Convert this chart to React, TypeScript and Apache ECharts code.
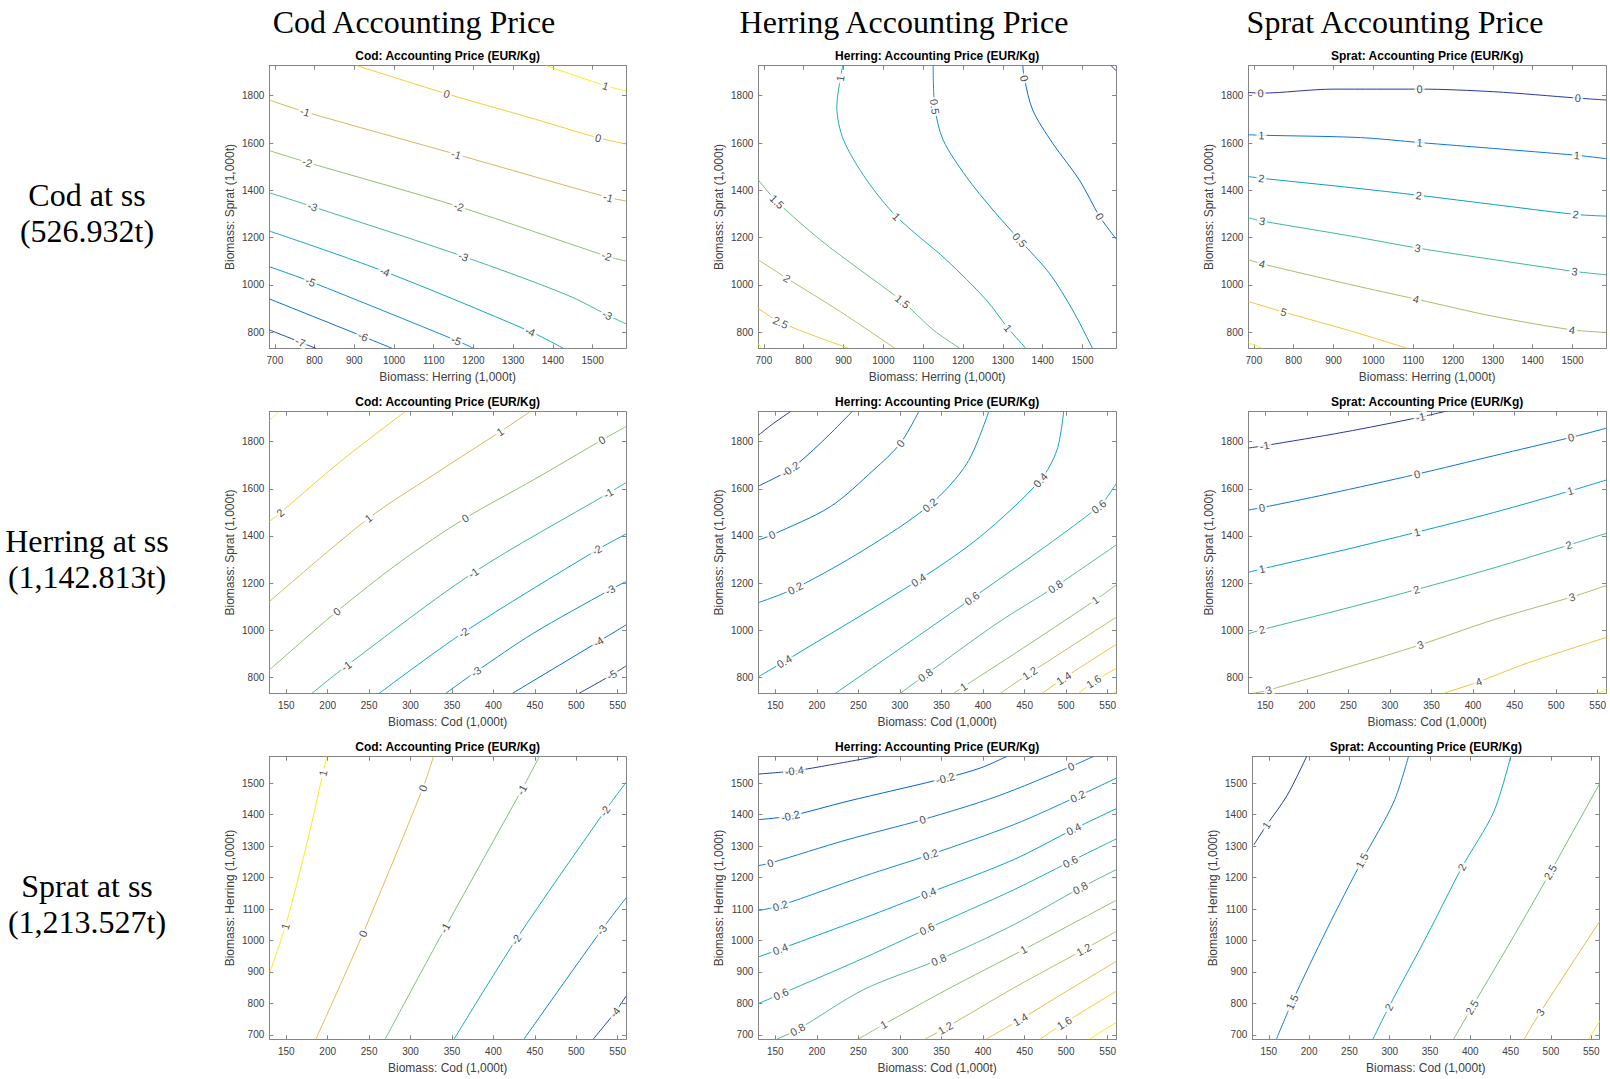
import React, { useEffect, useRef } from "react";
import * as echarts from "echarts";

// ---------- text ----------
const columnTitles = ["Cod Accounting Price", "Herring Accounting Price", "Sprat Accounting Price"];
const rowLabels = [
  ["Cod at ss", "(526.932t)"],
  ["Herring at ss", "(1,142.813t)"],
  ["Sprat at ss", "(1,213.527t)"],
];
const panelTitles = ["Cod: Accounting Price (EUR/Kg)", "Herring: Accounting Price (EUR/Kg)", "Sprat: Accounting Price (EUR/Kg)"];
const nameCod = "Biomass: Cod (1,000t)";
const nameHerring = "Biomass: Herring (1,000t)";
const nameSprat = "Biomass: Sprat (1,000t)";

// ---------- axes ----------
const herringRange = [686, 1584];
const spratRange = [732, 1927];
const codRange = [129.5, 560];
const herringTicks = [700, 800, 900, 1000, 1100, 1200, 1300, 1400, 1500];
const spratTicks = [800, 1000, 1200, 1400, 1600, 1800];
const codTicks = [150, 200, 250, 300, 350, 400, 450, 500, 550];

// ---------- contour lines: [level, points[x,y]] ----------
type Contour = [number, number[][]];
type Lbl = [number, number, number];

const p11Lines: Contour[] = [
  [1, [[1384, 1927], [1533, 1842], [1584, 1821]]],
  [0, [[907, 1927], [1133, 1808], [1351, 1703], [1514, 1622], [1584, 1596]]],
  [-1, [[686, 1782], [776, 1732], [1157, 1552], [1539, 1370], [1584, 1355]]],
  [-2, [[686, 1568], [782, 1518], [1163, 1331], [1535, 1122], [1584, 1101]]],
  [-3, [[686, 1390], [795, 1331], [1175, 1120], [1435, 958], [1537, 873], [1584, 835]]],
  [-4, [[686, 1228], [977, 1056], [1343, 803], [1426, 732]]],
  [-5, [[686, 1077], [790, 1014], [1157, 765], [1200, 732]]],
  [-6, [[686, 941], [922, 782], [995, 732]]],
  [-7, [[686, 810], [764, 758], [803, 732]]],
];
const p11Labels: Lbl[] = [
  [1533, 1842, 1], [1133, 1808, 0], [1514, 1622, 0], [776, 1732, -1], [1157, 1552, -1], [1539, 1370, -1],
  [782, 1518, -2], [1163, 1331, -2], [1535, 1122, -2], [795, 1331, -3], [1175, 1120, -3], [1537, 873, -3],
  [977, 1056, -4], [1343, 803, -4], [790, 1014, -5], [1157, 765, -5], [922, 782, -6], [764, 758, -7],
];

const p12Lines: Contour[] = [
  [1, [[898, 1927], [892, 1873], [883, 1754], [900, 1613], [958, 1444], [1033, 1289], [1158, 1106], [1258, 937], [1313, 817], [1358, 732]]],
  [0.5, [[1125, 1927], [1129, 1754], [1150, 1613], [1208, 1458], [1275, 1317], [1342, 1190], [1417, 1049], [1475, 894], [1525, 732]]],
  [0, [[1350, 1927], [1354, 1873], [1375, 1739], [1425, 1599], [1492, 1444], [1543, 1289], [1584, 1195]]],
  [-0.5, [[1572, 1927], [1584, 1906]]],
  [1.5, [[686, 1444], [733, 1352], [842, 1190], [942, 1063], [1048, 930], [1125, 810], [1192, 732]]],
  [2, [[686, 1106], [758, 1028], [892, 887], [1029, 732]]],
  [2.5, [[686, 901], [742, 841], [913, 732]]],
  [3, [[686, 752], [694, 732]]],
];
const p12Labels: Lbl[] = [
  [892, 1873, 1], [1033, 1289, 1], [1313, 817, 1], [1129, 1754, 0.5], [1342, 1190, 0.5],
  [1354, 1873, 0], [1543, 1289, 0], [733, 1352, 1.5], [1048, 930, 1.5], [758, 1028, 2], [742, 841, 2.5],
];

const p13Lines: Contour[] = [
  [0, [[686, 1814], [717, 1811], [901, 1828], [1116, 1828], [1302, 1817], [1513, 1790], [1584, 1782]]],
  [1, [[686, 1635], [719, 1633], [968, 1623], [1116, 1602], [1302, 1577], [1511, 1548], [1584, 1534]]],
  [2, [[686, 1458], [719, 1451], [946, 1411], [1114, 1379], [1302, 1340], [1508, 1298], [1584, 1291]]],
  [3, [[686, 1284], [721, 1270], [946, 1206], [1111, 1156], [1302, 1107], [1505, 1057], [1584, 1043]]],
  [4, [[686, 1107], [721, 1089], [946, 1000], [1107, 940], [1302, 867], [1499, 810], [1584, 799]]],
  [5, [[686, 930], [775, 885], [946, 804], [1085, 732]]],
  [6, [[686, 756], [721, 732]]],
];
const p13Labels: Lbl[] = [
  [717, 1811, 0], [1116, 1828, 0], [1513, 1790, 0], [719, 1633, 1], [1116, 1602, 1], [1511, 1548, 1],
  [719, 1451, 2], [1114, 1379, 2], [1508, 1298, 2], [721, 1270, 3], [1111, 1156, 3], [1505, 1057, 3],
  [721, 1089, 4], [1107, 940, 4], [1499, 810, 4], [775, 885, 5],
];

const p21Lines: Contour[] = [
  [3, [[129.5, 1889], [141, 1927]]],
  [2, [[129.5, 1461], [142.8, 1498], [215, 1715], [293.5, 1927]]],
  [1, [[129.5, 1121], [249.3, 1475], [327.7, 1659], [408.1, 1842], [444.3, 1927]]],
  [0, [[129.5, 831], [211, 1079], [288, 1291], [366, 1475], [448, 1637], [531, 1807], [560, 1864]]],
  [-1, [[181, 732], [222.4, 848], [375.9, 1244], [538.7, 1581], [560, 1626]]],
  [-2, [[262.2, 732], [363.9, 990], [524.7, 1340], [560, 1408]]],
  [-3, [[342.6, 732], [379.1, 824], [448.3, 987], [540.8, 1171], [560, 1206]]],
  [-4, [[423, 732], [526.7, 951], [560, 1022]]],
  [-5, [[503.4, 732], [542.8, 810], [560, 848]]],
];
const p21Labels: Lbl[] = [
  [142.8, 1498, 2], [249.3, 1475, 1], [408.1, 1842, 1], [211, 1079, 0], [366, 1475, 0], [531, 1807, 0],
  [222.4, 848, -1], [375.9, 1244, -1], [538.7, 1581, -1], [363.9, 990, -2], [524.7, 1340, -2],
  [379.1, 824, -3], [540.8, 1171, -3], [526.7, 951, -4], [542.8, 810, -5],
];

const p22Lines: Contour[] = [
  [-0.4, [[129.9, 1828], [148, 1878], [168.1, 1927]]],
  [-0.2, [[129.9, 1612], [168.1, 1683], [204.2, 1793], [242.3, 1927]]],
  [0, [[129.9, 1383], [146, 1404], [216.2, 1524], [268.4, 1680], [300.5, 1793], [322.5, 1927]]],
  [0.2, [[129.9, 1117], [174.1, 1178], [256.4, 1340], [335.8, 1531], [380.7, 1708], [406.8, 1927]]],
  [0.4, [[129.9, 803], [160.8, 867], [322.5, 1213], [396.7, 1397], [469, 1637], [489, 1765], [497, 1927]]],
  [0.6, [[222.2, 732], [386.7, 1135], [539.2, 1524], [560.4, 1623]]],
  [0.8, [[300.5, 732], [330.6, 810], [416.8, 1029], [487, 1185], [560.4, 1362]]],
  [1, [[364.6, 732], [376.7, 760], [456.9, 944], [535.2, 1128], [560.4, 1192]]],
  [1.2, [[420.8, 732], [456.1, 817], [560.4, 1055]]],
  [1.4, [[471, 732], [497, 796], [560.4, 940]]],
  [1.6, [[515.1, 732], [533.2, 782], [560.4, 838]]],
  [1.8, [[556.4, 732], [560.4, 743]]],
];
const p22Labels: Lbl[] = [
  [168.1, 1683, -0.2], [146, 1404, 0], [300.5, 1793, 0], [174.1, 1178, 0.2], [335.8, 1531, 0.2],
  [160.8, 867, 0.4], [322.5, 1213, 0.4], [469, 1637, 0.4], [386.7, 1135, 0.6], [539.2, 1524, 0.6],
  [330.6, 810, 0.8], [487, 1185, 0.8], [376.7, 760, 1], [535.2, 1128, 1], [456.1, 817, 1.2],
  [497, 796, 1.4], [533.2, 782, 1.6],
];

const p23Lines: Contour[] = [
  [-1, [[129.9, 1773], [149.2, 1783], [244.3, 1840], [336.6, 1904], [370.7, 1932]]],
  [0, [[129.9, 1510], [146, 1520], [224.2, 1577], [332.5, 1662], [424.8, 1740], [517.9, 1818], [560.4, 1857]]],
  [1, [[129.9, 1246], [146, 1260], [244.3, 1340], [332.5, 1416], [424.8, 1499], [517.1, 1591], [560.4, 1637]]],
  [2, [[129.9, 985], [146, 1002], [244.3, 1090], [331.7, 1172], [424.8, 1264], [515.1, 1361], [560.4, 1411]]],
  [3, [[136, 732], [154, 746], [244.3, 838], [336.6, 938], [424.8, 1044], [519.1, 1141], [560.4, 1189]]],
  [4, [[364.6, 732], [406.8, 781], [465, 860], [560.4, 969]]],
  [5, [[550, 732], [560.4, 749]]],
];
const p23Labels: Lbl[] = [
  [149.2, 1783, -1], [336.6, 1904, -1], [146, 1520, 0], [332.5, 1662, 0], [517.9, 1818, 0],
  [146, 1260, 1], [332.5, 1416, 1], [517.1, 1591, 1], [146, 1002, 2], [331.7, 1172, 2], [515.1, 1361, 2],
  [154, 746, 3], [336.6, 938, 3], [519.1, 1141, 3], [406.8, 781, 4],
];

const p31Lines: Contour[] = [
  [1, [[130.7, 902], [148.8, 1045], [162.9, 1182], [178.9, 1352], [194.2, 1532], [199, 1585]]],
  [0, [[185.8, 687], [242.5, 1022], [314.8, 1484], [327.7, 1585]]],
  [-1, [[269.4, 687], [341.8, 1040], [434.2, 1479], [455.5, 1585]]],
  [-2, [[352.6, 687], [427.4, 1003], [534.7, 1412], [560, 1502]]],
  [-3, [[437, 687], [530.7, 1034], [560, 1135]]],
  [-4, [[520.6, 687], [546.8, 772], [560, 823]]],
];
const p31Labels: Lbl[] = [
  [148.8, 1045, 1], [194.2, 1532, 1], [242.5, 1022, 0], [314.8, 1484, 0], [341.8, 1040, -1], [434.2, 1479, -1],
  [427.4, 1003, -2], [534.7, 1412, -2], [530.7, 1034, -3], [546.8, 772, -4],
];

const p32Lines: Contour[] = [
  [-0.4, [[129.9, 1529], [172.9, 1539], [216.2, 1558], [272.4, 1585]]],
  [-0.2, [[129.9, 1384], [168.1, 1396], [236.3, 1442], [354.6, 1516], [396.7, 1548], [428.8, 1585]]],
  [0, [[129.9, 1238], [143.9, 1246], [236.3, 1320], [327.3, 1384], [416.8, 1458], [505.9, 1553], [533.1, 1585]]],
  [0.2, [[129.9, 1095], [156, 1111], [256.3, 1204], [336.6, 1273], [436.9, 1368], [513.9, 1458], [560.4, 1516]]],
  [0.4, [[129.9, 948], [156, 973], [256.3, 1071], [334.6, 1151], [436.9, 1257], [509.1, 1354], [560.4, 1419]]],
  [0.6, [[129.9, 800], [156.8, 830], [256.3, 944], [332.6, 1037], [436.9, 1161], [505.1, 1251], [560.4, 1323]]],
  [0.8, [[152, 687], [176.9, 717], [256.3, 844], [346.6, 939], [436.9, 1050], [517.1, 1167], [560.4, 1225]]],
  [1, [[250.3, 687], [280.4, 733], [356.6, 844], [448.9, 971], [560.4, 1128]]],
  [1.2, [[330.5, 687], [354.6, 722], [436.9, 849], [521.1, 971], [560.4, 1029]]],
  [1.4, [[404, 687], [444.9, 749], [497, 833], [560.4, 934]]],
  [1.6, [[468.9, 687], [497.8, 738], [560.4, 839]]],
  [1.8, [[528.3, 687], [560.4, 740]]],
];
const p32Labels: Lbl[] = [
  [172.9, 1539, -0.4], [168.1, 1396, -0.2], [354.6, 1516, -0.2], [143.9, 1246, 0], [327.3, 1384, 0], [505.9, 1553, 0],
  [156, 1111, 0.2], [336.6, 1273, 0.2], [513.9, 1458, 0.2], [156, 973, 0.4], [334.6, 1151, 0.4], [509.1, 1354, 0.4],
  [156.8, 830, 0.6], [332.6, 1037, 0.6], [505.1, 1251, 0.6], [176.9, 717, 0.8], [346.6, 939, 0.8], [517.1, 1167, 0.8],
  [280.4, 733, 1], [448.9, 971, 1], [354.6, 722, 1.2], [521.1, 971, 1.2], [444.9, 749, 1.4], [497.8, 738, 1.6],
];

const p33Lines: Contour[] = [
  [1, [[131.4, 1304], [147.1, 1366], [172.7, 1461], [197.5, 1588]]],
  [1.5, [[159.5, 687], [178.9, 804], [222.3, 1037], [265.7, 1254], [305, 1440], [323.6, 1588]]],
  [2, [[279.3, 687], [298.8, 788], [346.3, 1016], [389.7, 1233], [428.9, 1408], [450.4, 1588]]],
  [2.5, [[379.3, 687], [402.1, 788], [449.6, 995], [499.2, 1217], [560.3, 1498]]],
  [3, [[466.9, 687], [486.8, 772], [560.3, 1060]]],
  [3.5, [[546.7, 687], [560.3, 743]]],
];
const p33Labels: Lbl[] = [
  [147.1, 1366, 1], [178.9, 804, 1.5], [265.7, 1254, 1.5], [298.8, 788, 2], [389.7, 1233, 2],
  [402.1, 788, 2.5], [499.2, 1217, 2.5], [486.8, 772, 3],
];

// ---------- layout / style ----------
const colBoxes = [
  [269.3, 626],
  [758.3, 1116],
  [1248.3, 1606],
];
const rowBoxes = [
  [65.7, 348.3],
  [411.7, 693.3],
  [756.7, 1039.3],
];

type Panel = {
  lines: Contour[];
  labels: Lbl[];
  cmin: number;
  cmax: number;
};
const panels: Panel[] = [
  { lines: p11Lines, labels: p11Labels, cmin: -7.5, cmax: 1.3 },
  { lines: p12Lines, labels: p12Labels, cmin: -0.6, cmax: 3.1 },
  { lines: p13Lines, labels: p13Labels, cmin: -0.2, cmax: 6.1 },
  { lines: p21Lines, labels: p21Labels, cmin: -5.3, cmax: 3.2 },
  { lines: p22Lines, labels: p22Labels, cmin: -0.45, cmax: 1.85 },
  { lines: p23Lines, labels: p23Labels, cmin: -1.2, cmax: 5.1 },
  { lines: p31Lines, labels: p31Labels, cmin: -4.3, cmax: 1.2 },
  { lines: p32Lines, labels: p32Labels, cmin: -0.5, cmax: 1.9 },
  { lines: p33Lines, labels: p33Labels, cmin: 0.9, cmax: 3.6 },
];

const parulaStops = ["#352a87", "#0363e1", "#1485d4", "#06a7c6", "#38b99e", "#92bf73", "#d9ba56", "#fcce2e", "#f9fb0e"];
function hexToRgb(h: string) {
  return [parseInt(h.slice(1, 3), 16), parseInt(h.slice(3, 5), 16), parseInt(h.slice(5, 7), 16)];
}
function parula(t: number) {
  const tt = Math.max(0, Math.min(1, t));
  const pos = tt * (parulaStops.length - 1);
  const i = Math.min(parulaStops.length - 2, Math.floor(pos));
  const f = pos - i;
  const a = hexToRgb(parulaStops[i]);
  const b = hexToRgb(parulaStops[i + 1]);
  const c = a.map((v, k) => Math.round(v + (b[k] - v) * f));
  return `rgb(${c[0]},${c[1]},${c[2]})`;
}

const SANS = 'Arial, "Liberation Sans", Helvetica, sans-serif';
const SERIF = '"Times New Roman", "Liberation Serif", serif';
const AXIS_COLOR = "#858585";
const TEXT_COLOR = "#404040";
const plain = (v: number) => String(v);

function buildOption(rotations: number[][] | null) {
  const grids: any[] = [];
  const xAxes: any[] = [];
  const yAxes: any[] = [];
  const series: any[] = [];
  const graphics: any[] = [];

  for (let r = 0; r < 3; r++) {
    for (let c = 0; c < 3; c++) {
      const p = r * 3 + c;
      let [l, rr] = colBoxes[c];
      if (r === 2 && c === 2) {
        l = 1252.3;
        rr = 1599.3;
      }
      const [t, b] = rowBoxes[r];
      grids.push({ left: l, top: t, width: rr - l, height: b - t, show: false });

      const xr = r === 0 ? herringRange : codRange;
      const yr = r === 2 ? herringRange : spratRange;
      const xt = r === 0 ? herringTicks : codTicks;
      const yt = r === 2 ? herringTicks : spratTicks;
      const xn = r === 0 ? nameHerring : nameCod;
      const yn = r === 2 ? nameHerring : nameSprat;

      const common = {
        type: "value",
        gridIndex: p,
        splitLine: { show: false },
        axisLine: { show: true, onZero: false, lineStyle: { color: AXIS_COLOR, width: 1 } },
      };
      xAxes.push({
        ...common,
        position: "bottom",
        min: xr[0],
        max: xr[1],
        axisTick: { show: true, inside: true, length: 4, customValues: xt, lineStyle: { color: AXIS_COLOR } },
        axisLabel: { show: true, customValues: xt, formatter: plain, color: TEXT_COLOR, fontSize: 10, fontFamily: SANS, margin: 7 },
        name: xn,
        nameLocation: "middle",
        nameGap: 23,
        nameTextStyle: { color: TEXT_COLOR, fontSize: 12, fontFamily: SANS },
      });
      xAxes.push({
        ...common,
        position: "top",
        min: xr[0],
        max: xr[1],
        axisTick: { show: true, inside: true, length: 4, customValues: xt, lineStyle: { color: AXIS_COLOR } },
        axisLabel: { show: false },
      });
      yAxes.push({
        ...common,
        position: "left",
        min: yr[0],
        max: yr[1],
        axisTick: { show: true, inside: true, length: 4, customValues: yt, lineStyle: { color: AXIS_COLOR } },
        axisLabel: { show: true, customValues: yt, formatter: plain, color: TEXT_COLOR, fontSize: 10, fontFamily: SANS, margin: 5 },
        name: yn,
        nameLocation: "middle",
        nameGap: 33,
        nameTextStyle: { color: TEXT_COLOR, fontSize: 12, fontFamily: SANS },
      });
      yAxes.push({
        ...common,
        position: "right",
        min: yr[0],
        max: yr[1],
        axisTick: { show: true, inside: true, length: 4, customValues: yt, lineStyle: { color: AXIS_COLOR } },
        axisLabel: { show: false },
      });

      const panel = panels[p];
      panel.lines.forEach(([lv, pts]) => {
        series.push({
          type: "line",
          xAxisIndex: 2 * p,
          yAxisIndex: 2 * p,
          data: pts,
          showSymbol: false,
          symbol: "none",
          smooth: 0.3,
          clip: true,
          z: 2,
          lineStyle: { color: parula((lv - panel.cmin) / (panel.cmax - panel.cmin)), width: 1 },
          silent: true,
        });
      });
      series.push({
        type: "scatter",
        xAxisIndex: 2 * p,
        yAxisIndex: 2 * p,
        symbolSize: 1,
        itemStyle: { color: "rgba(0,0,0,0)" },
        z: 5,
        silent: true,
        clip: false,
        data: panel.labels.map((lb, k) => ({
          value: [lb[0], lb[1]],
          name: String(lb[2]),
          label: { rotate: rotations ? rotations[p][k] : 0 },
        })),
        label: {
          show: true,
          position: "inside",
          formatter: (pp: any) => pp.name,
          color: "#1a1a1a",
          fontSize: 11,
          fontFamily: SANS,
          backgroundColor: "#ffffff",
          padding: [0, 2, 0, 2],
        },
      });

      graphics.push({
        type: "text",
        x: (l + rr) / 2,
        y: t - 10,
        style: {
          text: panelTitles[c],
          fill: "#000",
          font: `bold 12px ${SANS}`,
          align: "center",
          verticalAlign: "middle",
        },
      });
    }
  }

  const colTitleX = [414, 904, 1395];
  columnTitles.forEach((txt, i) => {
    graphics.push({
      type: "text",
      x: colTitleX[i],
      y: 22,
      style: { text: txt, fill: "#000", font: `32px ${SERIF}`, align: "center", verticalAlign: "middle" },
    });
  });
  const rowY = [
    [195, 231],
    [541, 577],
    [886, 922],
  ];
  rowLabels.forEach((pair, i) => {
    pair.forEach((txt, j) => {
      graphics.push({
        type: "text",
        x: 87,
        y: rowY[i][j],
        style: { text: txt, fill: "#000", font: `32px ${SERIF}`, align: "center", verticalAlign: "middle" },
      });
    });
  });

  return {
    animation: false,
    backgroundColor: "#ffffff",
    grid: grids,
    xAxis: xAxes,
    yAxis: yAxes,
    series,
    graphic: graphics,
  };
}

function computeRotations(chart: any): number[][] {
  return panels.map((panel, p) =>
    panel.labels.map((lb) => {
      const line = panel.lines.find((ln) => ln[0] === lb[2]);
      if (!line) return 0;
      const px = line[1].map((pt) => chart.convertToPixel({ gridIndex: p }, pt));
      const lp = chart.convertToPixel({ gridIndex: p }, [lb[0], lb[1]]);
      let best = 0;
      let bd = Infinity;
      px.forEach((q: number[], i: number) => {
        const d = (q[0] - lp[0]) ** 2 + (q[1] - lp[1]) ** 2;
        if (d < bd) {
          bd = d;
          best = i;
        }
      });
      const i0 = Math.max(0, best - 1);
      const i1 = Math.min(px.length - 1, best + 1);
      const a = px[i0];
      const b = px[i1];
      let ang = (Math.atan2(-(b[1] - a[1]), b[0] - a[0]) * 180) / Math.PI;
      if (ang > 90) ang -= 180;
      if (ang < -90) ang += 180;
      return ang;
    })
  );
}

export default function App() {
  const ref = useRef<HTMLDivElement>(null);
  useEffect(() => {
    if (!ref.current) return;
    const chart = echarts.init(ref.current, null, { renderer: "svg" });
    chart.setOption(buildOption(null));
    try {
      const rots = computeRotations(chart);
      chart.setOption(buildOption(rots));
    } catch (e) {
      // keep unrotated labels
    }
    return () => chart.dispose();
  }, []);
  return (
    <div
      ref={ref}
      style={{ position: "absolute", left: 0, top: 0, width: 1610, height: 1079, background: "#fff" }}
    />
  );
}
